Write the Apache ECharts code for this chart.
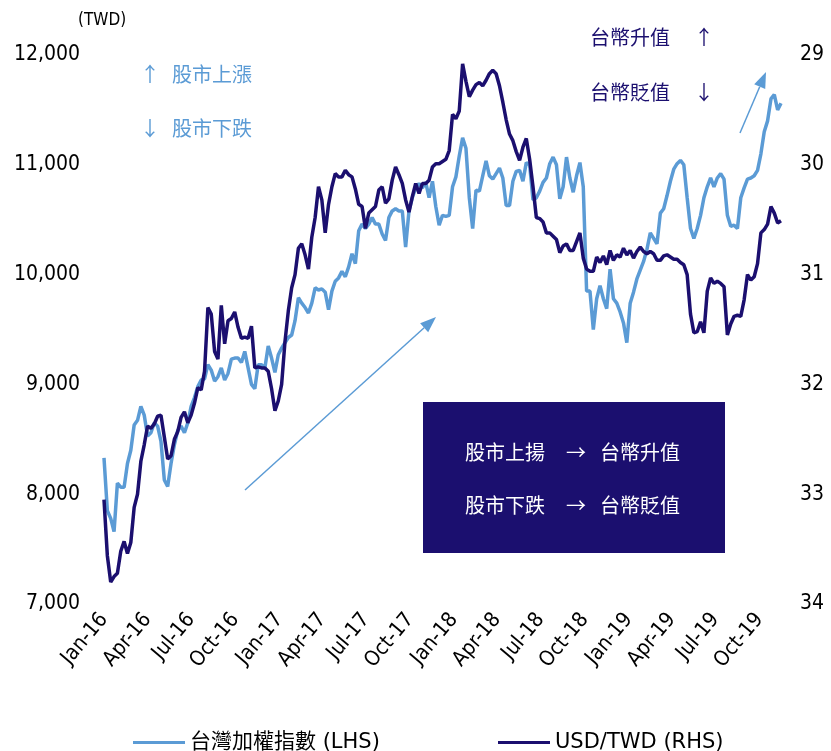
<!DOCTYPE html>
<html>
<head>
<meta charset="utf-8">
<script src="https://cdn.jsdelivr.net/npm/echarts@6/dist/echarts.min.js"></script>
<style>
  html, body { margin: 0; padding: 0; background: #ffffff; }
  #chart { width: 831px; height: 751px; }
</style>
</head>
<body>
<div id="chart"></div>
<script>
// Weekly closes, first week starting 2016-01-01
const firstWeek = '2016-01-01';

// TAIEX weighted index (left axis)
const taiex = [
  8330, 7850, 7780, 7660, 8100, 8064, 8064, 8280, 8400, 8630,
  8673, 8800, 8720, 8530, 8560, 8650, 8620, 8480, 8130, 8070,
  8280, 8450, 8580, 8620, 8560, 8650, 8800, 8880, 8980, 9040,
  9050, 9180, 9130, 9030, 9070, 9150, 9040, 9100, 9230, 9240,
  9240, 9200, 9300, 9150, 9000, 8960, 9180, 9180, 9150, 9350,
  9240, 9110, 9270, 9330, 9380, 9427, 9450, 9580, 9790, 9740,
  9700, 9650, 9740, 9880, 9860, 9870, 9840, 9680, 9850, 9940,
  9970, 10030, 9980, 10070, 10190, 10100, 10400, 10460, 10420, 10460,
  10520, 10460, 10460, 10370, 10310, 10520, 10580, 10600, 10580, 10580,
  10250, 10580, 10700, 10790, 10830, 10790, 10840, 10700, 10850, 10620,
  10450, 10540, 10530, 10540, 10800, 10890, 11080, 11245, 11150, 10700,
  10420, 10770, 10760, 10900, 11036, 10900, 10870, 10920, 10970, 10880,
  10630, 10630, 10850, 10940, 10950, 10850, 11020, 11000, 10680, 10700,
  10760, 10840, 10880, 11010, 11070, 11000, 10690, 10800, 11070, 10880,
  10750, 10900, 11020, 10800, 9850, 9850, 9500, 9780, 9900, 9780,
  9690, 10050, 9780, 9740, 9660, 9560, 9380, 9740, 9840, 9960,
  10040, 10120, 10230, 10380, 10330, 10280, 10560, 10600, 10720, 10850,
  10960, 11010, 11040, 11000, 10700, 10420, 10330, 10420, 10540, 10700,
  10800, 10880, 10800, 10880, 10920, 10870, 10540, 10440, 10450, 10420,
  10700, 10790, 10870, 10880, 10900, 10950, 11100, 11300, 11400, 11600,
  11640, 11500, 11560
];

// USD/TWD exchange rate (right axis, inverted)
const usdTwd = [
  33.05, 33.56, 33.80, 33.75, 33.72, 33.52, 33.43, 33.54, 33.44, 33.12,
  33.00, 32.70, 32.55, 32.38, 32.40, 32.36, 32.29, 32.28, 32.48, 32.68,
  32.65, 32.50, 32.43, 32.30, 32.25, 32.35, 32.28, 32.17, 32.03, 32.05,
  31.88, 31.30, 31.36, 31.70, 31.77, 31.28, 31.63, 31.42, 31.40, 31.34,
  31.48, 31.58, 31.57, 31.58, 31.47, 31.85, 31.84, 31.85, 31.85, 31.88,
  32.04, 32.24, 32.15, 32.00, 31.61, 31.33, 31.12, 31.00, 30.76, 30.72,
  30.82, 30.95, 30.66, 30.48, 30.20, 30.32, 30.62, 30.36, 30.20, 30.08,
  30.11, 30.11, 30.05, 30.09, 30.11, 30.22, 30.36, 30.38, 30.58, 30.44,
  30.41, 30.38, 30.23, 30.20, 30.35, 30.31, 30.14, 30.02, 30.09, 30.17,
  30.32, 30.43, 30.29, 30.17, 30.26, 30.17, 30.17, 30.14, 30.02, 29.99,
  29.99, 29.97, 29.95, 29.87, 29.54, 29.58, 29.51, 29.08, 29.24, 29.38,
  29.32, 29.27, 29.25, 29.28, 29.23, 29.17, 29.14, 29.17, 29.28, 29.43,
  29.59, 29.72, 29.78, 29.88, 29.96, 29.84, 29.76, 29.95, 30.20, 30.48,
  30.49, 30.52, 30.62, 30.62, 30.65, 30.68, 30.80, 30.74, 30.72, 30.78,
  30.78, 30.70, 30.62, 30.85, 30.95, 30.97, 30.97, 30.84, 30.89, 30.83,
  30.91, 30.78, 30.87, 30.82, 30.84, 30.76, 30.82, 30.78, 30.85, 30.79,
  30.75, 30.79, 30.81, 30.79, 30.81, 30.87, 30.87, 30.83, 30.82, 30.84,
  30.86, 30.86, 30.89, 30.91, 31.00, 31.36, 31.53, 31.52, 31.43, 31.53,
  31.15, 31.03, 31.08, 31.06, 31.08, 31.11, 31.55, 31.45, 31.38, 31.37,
  31.38, 31.23, 31.00, 31.05, 31.02, 30.90, 30.62, 30.59, 30.54, 30.38,
  30.44, 30.53, 30.51
];

// Quarterly x-axis ticks
const tickDates = [
  '2016-01-01', '2016-04-01', '2016-07-01', '2016-10-01',
  '2017-01-01', '2017-04-01', '2017-07-01', '2017-10-01',
  '2018-01-01', '2018-04-01', '2018-07-01', '2018-10-01',
  '2019-01-01', '2019-04-01', '2019-07-01', '2019-10-01'
];
const tickLabels = [
  'Jan-16', 'Apr-16', 'Jul-16', 'Oct-16',
  'Jan-17', 'Apr-17', 'Jul-17', 'Oct-17',
  'Jan-18', 'Apr-18', 'Jul-18', 'Oct-18',
  'Jan-19', 'Apr-19', 'Jul-19', 'Oct-19'
];

const seriesNames = ['台灣加權指數 (LHS)', 'USD/TWD (RHS)'];

const LIGHT = '#5b9bd5';
const NAVY = '#1b0f6f';
const LATIN = '"DejaVu Sans Condensed", "DejaVu Sans", sans-serif';
const CJK = '"Noto Sans CJK TC", "Noto Sans CJK JP", sans-serif';

// Dates as UTC day timestamps on a numeric axis
const DAY = 86400000;
const toTime = s => { const [y, m, d] = s.split('-').map(Number); return Date.UTC(y, m - 1, d); };
const weekDates = taiex.map((_, i) => toTime(firstWeek) + i * 7 * DAY);
const tickTimes = tickDates.map(toTime);
const labelOf = new Map(tickTimes.map((t, i) => [t, tickLabels[i]]));
const numFmt = new Intl.NumberFormat('en-US');

// Straight annotation arrow with a filled triangular head at (x2, y2)
function arrow(x1, y1, x2, y2, color) {
  const len = Math.hypot(x2 - x1, y2 - y1);
  const ux = (x2 - x1) / len, uy = (y2 - y1) / len;
  const headL = 16, headW = 6;
  const bx = x2 - ux * headL, by = y2 - uy * headL;
  return [
    { type: 'line', shape: { x1, y1, x2: bx, y2: by }, style: { stroke: color, lineWidth: 1.5 }, silent: true },
    { type: 'polygon', shape: { points: [[x2, y2], [bx - uy * headW, by + ux * headW], [bx + uy * headW, by - ux * headW]] },
      style: { fill: color }, silent: true }
  ];
}

function label(x, y, text, color, size, family, align) {
  return { type: 'text', x, y, silent: true,
    style: { text, fill: color, fontSize: size, fontFamily: family, align: align || 'left', verticalAlign: 'middle' } };
}

const chart = echarts.init(document.getElementById('chart'), null, { renderer: 'canvas' });

chart.setOption({
  animation: false,
  backgroundColor: '#ffffff',
  grid: { left: 104, right: 50, top: 55, bottom: 147, containLabel: false, outerBoundsMode: 'none' },
  legend: [
    { data: [seriesNames[0]], left: 128, top: 727, icon: 'rect', itemWidth: 52, itemHeight: 3,
      textStyle: { fontSize: 21, color: '#000', fontFamily: '"DejaVu Sans", ' + CJK } },
    { data: [seriesNames[1]], left: 493, top: 727, icon: 'rect', itemWidth: 52, itemHeight: 3,
      textStyle: { fontSize: 21, color: '#000', fontFamily: '"DejaVu Sans", ' + CJK } }
  ],
  xAxis: {
    type: 'value',
    min: toTime('2016-01-01'),
    max: weekDates[weekDates.length - 1],
    axisLine: { show: false },
    axisTick: { show: false },
    splitLine: { show: false },
    axisLabel: {
      customValues: tickTimes,
      formatter: v => labelOf.get(v) || '',
      rotate: 50,
      margin: 12,
      fontSize: 21,
      color: '#000',
      fontFamily: LATIN,
      hideOverlap: false,
      showMinLabel: true,
      showMaxLabel: true
    }
  },
  yAxis: [
    {
      type: 'value', position: 'left', min: 7000, max: 12000, interval: 1000,
      axisLine: { show: false }, axisTick: { show: false }, splitLine: { show: false },
      axisLabel: { formatter: v => numFmt.format(v), fontSize: 21, color: '#000', margin: 24, fontFamily: LATIN }
    },
    {
      type: 'value', position: 'right', min: 29, max: 34, interval: 1, inverse: true,
      axisLine: { show: false }, axisTick: { show: false }, splitLine: { show: false },
      axisLabel: { fontSize: 21, color: '#000', margin: 19, fontFamily: LATIN }
    }
  ],
  series: [
    {
      name: seriesNames[0], type: 'line', yAxisIndex: 0, showSymbol: false, symbol: 'none',
      color: LIGHT, lineStyle: { color: LIGHT, width: 3.5 },
      data: taiex.map((v, i) => [weekDates[i], v])
    },
    {
      name: seriesNames[1], type: 'line', yAxisIndex: 1, showSymbol: false, symbol: 'none',
      color: NAVY, lineStyle: { color: NAVY, width: 3.5 },
      data: usdTwd.map((v, i) => [weekDates[i], v])
    }
  ],
  graphic: [
    label(78, 21, '(TWD)', '#000', 17, LATIN),
    label(140, 74, '↑', LIGHT, 20, CJK),
    label(172, 74, '股市上漲', LIGHT, 20, CJK),
    label(140, 128, '↓', LIGHT, 20, CJK),
    label(172, 128, '股市下跌', LIGHT, 20, CJK),
    label(590, 37, '台幣升值', NAVY, 20, CJK),
    label(694, 37, '↑', NAVY, 20, CJK),
    label(590, 92, '台幣貶值', NAVY, 20, CJK),
    label(694, 92, '↓', NAVY, 20, CJK),
    { type: 'rect', shape: { x: 423, y: 402, width: 302, height: 151 }, style: { fill: NAVY }, silent: true },
    label(465, 452, '股市上揚', '#ffffff', 20, CJK),
    label(566, 452, '→', '#ffffff', 20, CJK),
    label(600, 452, '台幣升值', '#ffffff', 20, CJK),
    label(465, 505, '股市下跌', '#ffffff', 20, CJK),
    label(566, 505, '→', '#ffffff', 20, CJK),
    label(600, 505, '台幣貶值', '#ffffff', 20, CJK),
    ...arrow(245, 490, 436, 317, LIGHT),
    ...arrow(740, 133, 766, 72, LIGHT)
  ]
});
</script>
</body>
</html>
